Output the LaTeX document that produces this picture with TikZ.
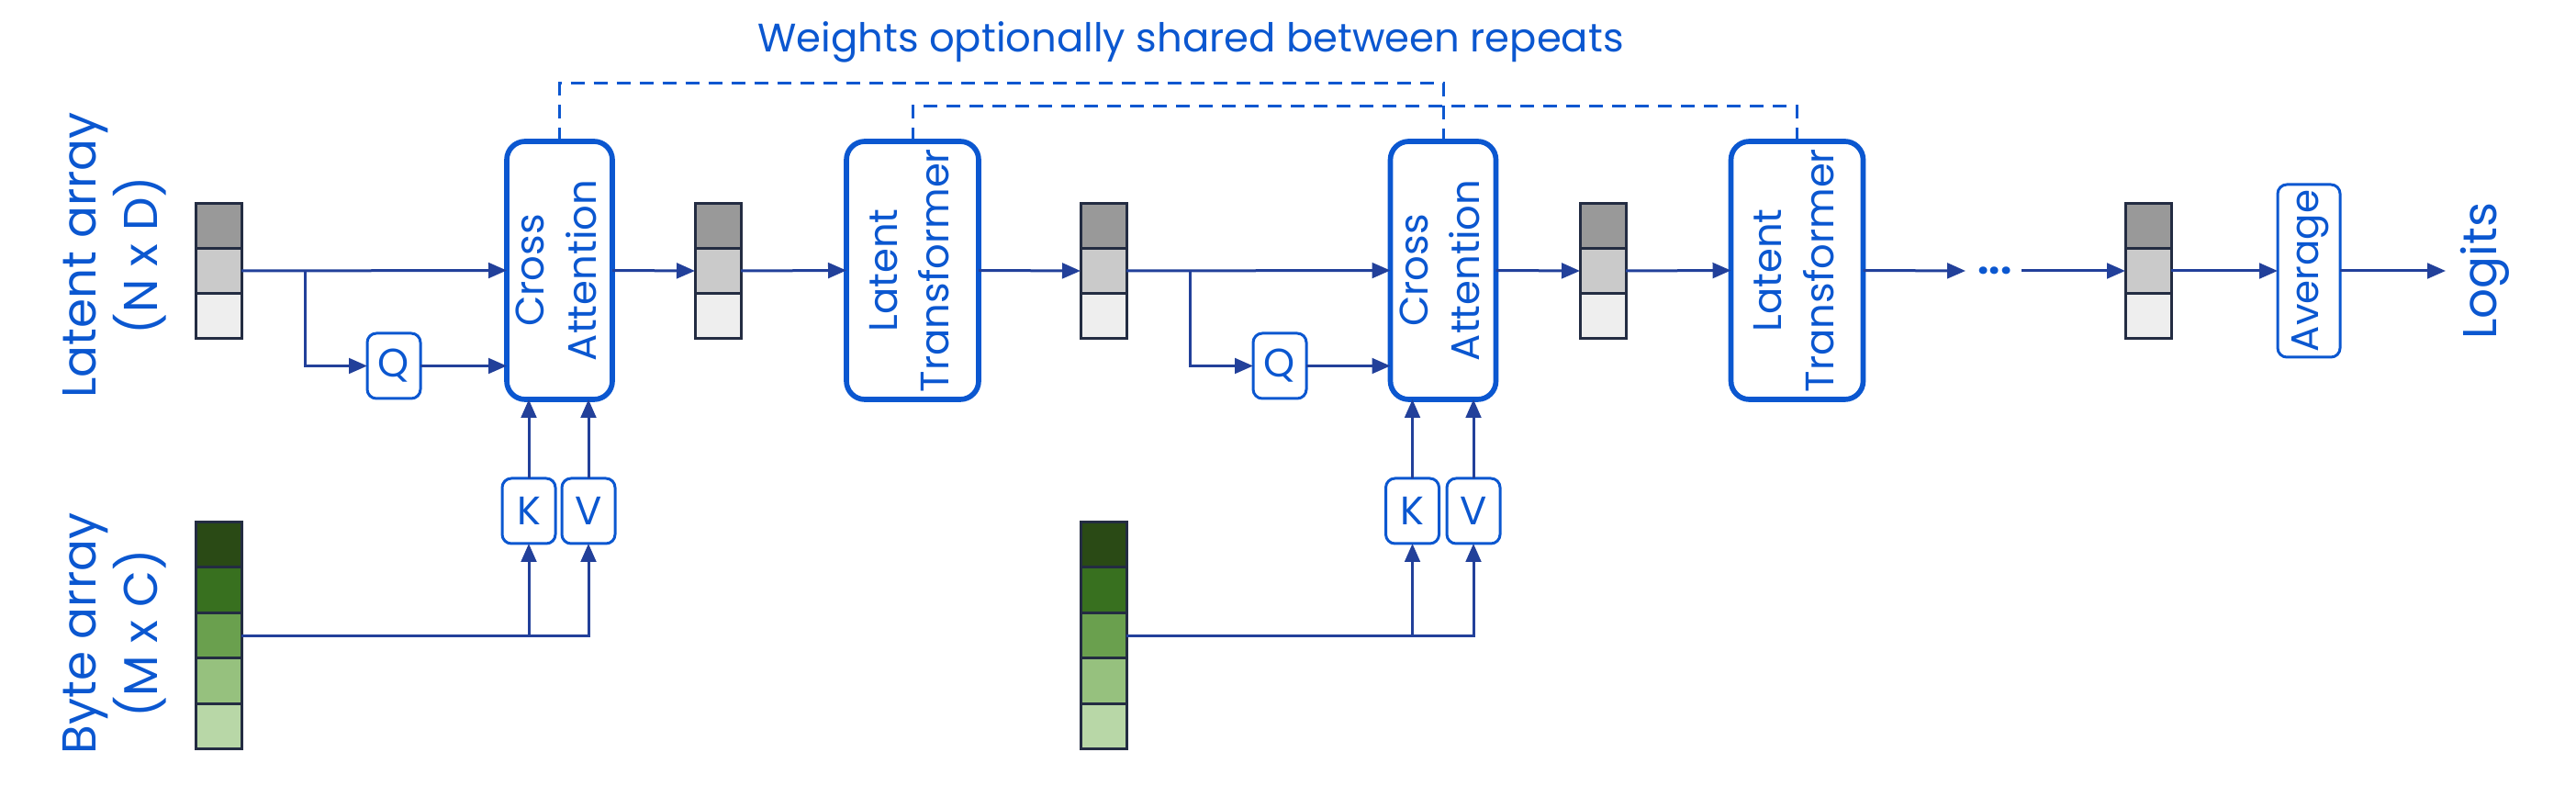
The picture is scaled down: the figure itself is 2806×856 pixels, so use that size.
\documentclass[tikz,border=0pt]{standalone}
\usepackage{fontspec}
\setmainfont{Poppins}
\usepackage{graphicx}
\usetikzlibrary{arrows.meta}
\definecolor{bluet}{HTML}{0B57D0}
\definecolor{navy}{HTML}{22409A}
\definecolor{edgec}{HTML}{232C42}
\definecolor{lgA}{HTML}{999999}
\definecolor{lgB}{HTML}{CACACA}
\definecolor{lgC}{HTML}{EEEEEE}
\definecolor{grA}{HTML}{2A4A15}
\definecolor{grB}{HTML}{38701F}
\definecolor{grC}{HTML}{6AA04E}
\definecolor{grD}{HTML}{96C17E}
\definecolor{grE}{HTML}{B8D7A7}
\newcommand{\mylatent}[2]{%
  \node[cell,fill=lgA] (#1a) at (#2,245.7) {};
  \node[cell,fill=lgB] (#1b) at (#2,295) {};
  \node[cell,fill=lgC] (#1c) at (#2,344.3) {};
}
\newcommand{\mybyte}[2]{%
  \node[cell,fill=grA] (#1a) at (#2,592.8) {};
  \node[cell,fill=grB] (#1b) at (#2,642.4) {};
  \node[cell,fill=grC] (#1c) at (#2,692) {};
  \node[cell,fill=grD] (#1d) at (#2,741.6) {};
  \node[cell,fill=grE] (#1e) at (#2,791.2) {};
}
\newcommand{\vtext}[1]{\rotatebox{90}{\begin{tabular}{@{}c@{}}#1\end{tabular}}}
\begin{document}
\begin{tikzpicture}[x=0.3pt,y=-0.3pt,
  cell/.style={draw=edgec,line width=0.9pt,minimum width=15pt,minimum height=14.8pt,inner sep=0pt,outer sep=0pt},
  arr/.style={draw=navy,line width=0.9pt,-{Triangle[length=6pt,width=5pt]}},
  dsh/.style={draw=bluet,line width=0.9pt,dash pattern=on 4.5pt off 3pt},
  bigbox/.style={draw=bluet,line width=1.7pt,rounded corners=6pt,minimum height=84.3pt,inner sep=0pt,outer sep=0pt,text=bluet,
    font=\fontsize{13}{17}\selectfont},
  smallbox/.style={draw=bluet,line width=0.9pt,rounded corners=3pt,minimum width=17.4pt,minimum height=21.3pt,inner sep=0pt,outer sep=0pt,text=bluet,
    font=\fontsize{13}{15}\selectfont},
  lbl/.style={text=bluet,inner sep=0pt,font=\fontsize{15.5}{19}\selectfont},
]
\useasboundingbox (0,0) rectangle (2806,856);
% title
\node[text=bluet,anchor=base,inner sep=0pt,font=\fontsize{13}{16}\selectfont] (ttl) at (1297,57) {Weights optionally shared between repeats};
% side labels
\node[lbl] (latlab) at (125,278) {\vtext{Latent array\\(N x D)}};
\node[lbl] (bytlab) at (125,690) {\vtext{Byte array\\(M x C)}};
% arrays
\mylatent{la1}{238}
\mylatent{la2}{782}
\mylatent{la3}{1202}
\mylatent{la4}{1746}
\mylatent{la5}{2340}
\mybyte{ba1}{238}
\mybyte{ba2}{1202}
% blocks
\node[bigbox,minimum width=34.5pt] (ca1) at (609.5,294.5) {\vtext{Cross\\Attention}};
\node[bigbox,minimum width=43.2pt] (lt1) at (994,294.5) {\vtext{Latent\\Transformer}};
\node[bigbox,minimum width=34.5pt] (ca2) at (1572,294.5) {\vtext{Cross\\Attention}};
\node[bigbox,minimum width=43.2pt] (lt2) at (1957.5,294.5) {\vtext{Latent\\Transformer}};
\node[smallbox] (q1) at (429,398.5) {Q};
\node[smallbox] (q2) at (1394,398.5) {Q};
\node[smallbox] (k1) at (576,556.5) {K};
\node[smallbox] (v1) at (641,556.5) {V};
\node[smallbox] (k2) at (1538.5,556.5) {K};
\node[smallbox] (v2) at (1605,556.5) {V};
\node[smallbox,minimum width=20.4pt,minimum height=56.4pt,font=\fontsize{12.6}{15}\selectfont] (avg) at (2515,295) {\vtext{Average}};
\node[lbl,anchor=west,inner sep=3pt] (logits) at (2664,295) {\vtext{Logits}};
\node[text=bluet,anchor=base,inner sep=0pt,font=\fontsize{13}{15}\selectfont\bfseries] (dots) at (2173,299) {...};
% weight sharing
\draw[dsh] (ca1.north) -- ++(0,-63) -| (ca2.north);
\draw[dsh] (lt1.north) -- ++(0,-38) -| (lt2.north);
% first repeat
\coordinate (br1) at (332,295);
\draw[arr] (la1b.east) -- (ca1.west);
\draw[arr] (br1) |- (q1.west);
\draw[arr] (q1.east) -- (q1.east -| ca1.west);
\draw[arr] (k1.north) -- (k1.north |- ca1.south);
\draw[arr] (v1.north) -- (v1.north |- ca1.south);
\draw[arr] (ba1c.east) -| (v1.south);
\draw[arr] (k1.south |- ba1c.east) -- (k1.south);
\draw[arr] (ca1.east) -- (la2b.west);
\draw[arr] (la2b.east) -- (lt1.west);
\draw[arr] (lt1.east) -- (la3b.west);
% second repeat
\coordinate (br2) at (1296,295);
\draw[arr] (la3b.east) -- (ca2.west);
\draw[arr] (br2) |- (q2.west);
\draw[arr] (q2.east) -- (q2.east -| ca2.west);
\draw[arr] (k2.north) -- (k2.north |- ca2.south);
\draw[arr] (v2.north) -- (v2.north |- ca2.south);
\draw[arr] (ba2c.east) -| (v2.south);
\draw[arr] (k2.south |- ba2c.east) -- (k2.south);
\draw[arr] (ca2.east) -- (la4b.west);
\draw[arr] (la4b.east) -- (lt2.west);
% tail
\coordinate (d1) at (2141,295);
\coordinate (d2) at (2202,295);
\draw[arr] (lt2.east) -- (d1);
\draw[arr] (d2) -- (la5b.west);
\draw[arr] (la5b.east) -- (avg.west);
\draw[arr] (avg.east) -- (logits.west);
\end{tikzpicture}
\end{document}
